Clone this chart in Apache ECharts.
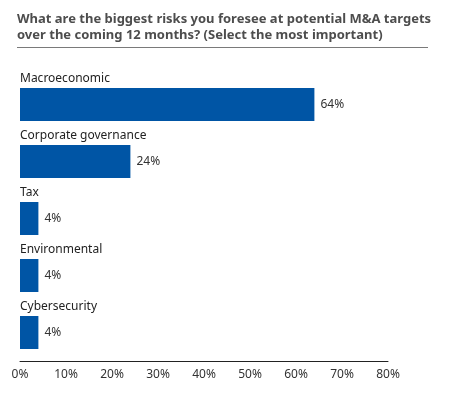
<!DOCTYPE html>
<html>
<head>
<meta charset="utf-8">
<script src="https://cdn.jsdelivr.net/npm/echarts@6/dist/echarts.min.js"></script>
<style>
  html, body { margin: 0; padding: 0; background: #fff; }
  #chart { width: 462px; height: 398px; }
</style>
</head>
<body>
<div id="chart"></div>
<script>
// data
const categories = ['Macroeconomic', 'Corporate governance', 'Tax', 'Environmental', 'Cybersecurity']
const shares = [64, 24, 4, 4, 4]
const axisTicks = [0, 10, 20, 30, 40, 50, 60, 70, 80]

const chart = echarts.init(document.getElementById('chart'))

const font = 'Noto Sans'

let options = {
  animation: false,
  backgroundColor: '#fff',
  title: {
    text: 'What are the biggest risks you foresee at potential M&A targets\nover the coming 12 months? (Select the most important)',
    left: 12,
    top: 6,
    textStyle: {
      fontFamily: font,
      fontSize: 13,
      fontWeight: 'bold',
      color: '#4d4d4d',
      lineHeight: 16
    }
  },
  graphic: [{
    type: 'line',
    shape: { x1: 17, y1: 47.5, x2: 428, y2: 47.5 },
    style: { stroke: '#7a7a7a', lineWidth: 1 }
  }],
  grid: { left: 20, right: 74, top: 76, bottom: 37 },
  xAxis: {
    type: 'value',
    min: axisTicks[0],
    max: axisTicks[axisTicks.length - 1],
    interval: 10,
    splitLine: { show: false },
    axisTick: { show: false },
    axisLine: { show: true, lineStyle: { color: '#222', width: 1 } },
    axisLabel: {
      formatter: '{value}%',
      fontFamily: font,
      fontSize: 12,
      color: '#333',
      margin: 8
    }
  },
  yAxis: {
    type: 'category',
    data: categories,
    inverse: true,
    axisLine: { show: false },
    axisTick: { show: false },
    axisLabel: { show: false }
  },
  series: [
    {
      type: 'bar',
      data: shares,
      barWidth: 33,
      itemStyle: { color: '#0055a5' },
      label: {
        show: true,
        position: 'right',
        distance: 6,
        formatter: '{c}%',
        fontFamily: font,
        fontSize: 12,
        color: '#333'
      }
    },
    {
      // invisible copy that carries the category names above each bar
      type: 'bar',
      data: shares,
      barWidth: 33,
      barGap: '-100%',
      itemStyle: { color: 'rgba(0,0,0,0)' },
      silent: true,
      label: {
        show: true,
        position: [0, -3],
        align: 'left',
        verticalAlign: 'bottom',
        formatter: '{b}',
        fontFamily: font,
        fontSize: 12,
        color: '#222'
      }
    }
  ]
}

chart.setOption(options)
</script>
</body>
</html>
